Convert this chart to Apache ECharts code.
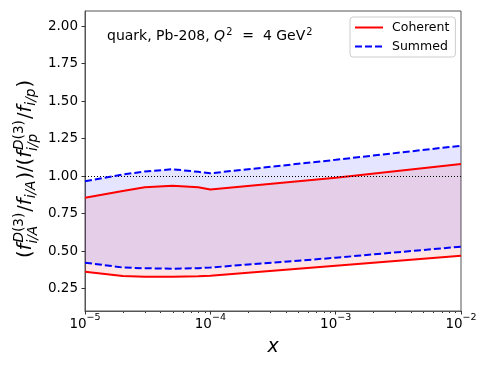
<!DOCTYPE html>
<html>
<head>
<meta charset="utf-8">
<script src="https://cdn.jsdelivr.net/npm/echarts@6/dist/echarts.min.js"></script>
<style>
  html, body { margin: 0; padding: 0; background: #fff; }
  #chart { width: 490px; height: 368px; }
</style>
</head>
<body>
<div id="chart"></div>
<script>
// data
var xs = [1e-5, 2e-5, 3e-5, 5e-5, 8e-5, 1e-4, 1e-3, 1e-2];
var coherentHigh = [0.855, 0.900, 0.925, 0.935, 0.925, 0.910, 0.988, 1.080];
var coherentLow = [0.362, 0.333, 0.329, 0.328, 0.332, 0.335, 0.402, 0.468];
var summedHigh = [0.965, 1.010, 1.030, 1.045, 1.028, 1.018, 1.108, 1.202];
var summedLow = [0.422, 0.390, 0.385, 0.382, 0.385, 0.390, 0.455, 0.529];
var yTicks = [0.25, 0.5, 0.75, 1.0, 1.25, 1.5, 1.75, 2.0];
var xTicks = [1e-5, 1e-4, 1e-3, 1e-2];

var FONT = '"DejaVu Sans"';

function pairs(ys) {
    return xs.map(function (x, i) { return [x, ys[i]]; });
}

var measureCtx = document.createElement('canvas').getContext('2d');
function fontStr(size, it) {
    return (it ? 'italic ' : '') + size + 'px ' + FONT;
}
function textW(s, size, it) {
    measureCtx.font = fontStr(size, it);
    return measureCtx.measureText(s).width;
}

// lays out a small mathtext-like string, baseline at local y = 0
function mathText(tokens, size) {
    var kids = [];
    var x = 0;
    var sc = size * 0.7;
    function put(s, sz, it, px, base) {
        kids.push({
            type: 'text', x: px, y: base - 0.3 * sz,
            style: {
                text: s, font: fontStr(sz, it), fill: '#000',
                align: 'left', verticalAlign: 'middle',
                textAlign: 'left', textVerticalAlign: 'middle'
            }
        });
        return textW(s, sz, it);
    }
    function putParts(parts, px, base) {
        var w = 0;
        parts.forEach(function (p) { w += put(p[0], sc, p[1], px + w, base); });
        return w;
    }
    tokens.forEach(function (t) {
        if (t.sup || t.sub) {
            var w1 = 0, w2 = 0;
            var stacked = t.sup && t.sub;
            if (t.sup) w1 = putParts(t.sup, x + 1, -0.42 * size);
            if (t.sub) w2 = putParts(t.sub, x, stacked ? 0.3 * size : 0.2 * size);
            x += Math.max(w1 + 1, w2) + 1;
        } else {
            x += put(t[0], size, t[1], x, 0);
        }
    });
    return { kids: kids, width: x };
}

var yLabel = mathText([
    ['(', false], ['f', true], { sup: [['D', true], ['(3)', false]], sub: [['i/A', true]] },
    ['/', false], ['f', true], { sub: [['i/A', true]] }, [')/(', false],
    ['f', true], { sup: [['D', true], ['(3)', false]], sub: [['i/p', true]] },
    ['/', false], ['f', true], { sub: [['i/p', true]] }, [')', false]
], 19.5);

var note = mathText([
    ['quark, Pb-208, ', false], ['Q', true], { sup: [['2', false]] },
    ['  =  4 GeV', false], { sup: [['2', false]] }
], 14);

// filled band between two curves, drawn through the axis scale
function band(lo, hi, fill, z) {
    return {
        type: 'custom', silent: true, z: z, animation: false,
        data: xs.map(function (x, i) { return [x, lo[i], hi[i]]; }),
        encode: { x: 0, y: [1, 2] },
        renderItem: function (params, api) {
            if (params.dataIndex !== 0) return;
            var pts = [];
            xs.forEach(function (x, i) { pts.push(api.coord([x, hi[i]])); });
            for (var i = xs.length - 1; i >= 0; i--) pts.push(api.coord([xs[i], lo[i]]));
            return { type: 'polygon', shape: { points: pts }, style: { fill: fill } };
        }
    };
}

var chart = echarts.init(document.getElementById('chart'));

var lineBase = { type: 'line', symbol: 'none', silent: true, animation: false };
var red = { color: '#ff0000', width: 2 };
var blue = { color: '#0000ff', width: 2, type: [7, 3] };

option = {
    animation: false,
    textStyle: { fontFamily: FONT },
    grid: { left: 85, right: 29, top: 11, bottom: 57, show: true, borderColor: '#555', borderWidth: 1 },
    legend: {
        data: ['Coherent', 'Summed'],
        orient: 'vertical',
        left: 350, top: 17,
        itemWidth: 28, itemHeight: 14, itemGap: 6,
        padding: [4, 6, 4, 4],
        borderColor: '#ccc', borderWidth: 1, borderRadius: 3,
        backgroundColor: 'rgba(255,255,255,0.8)',
        itemStyle: { opacity: 0 },
        textStyle: { fontSize: 12.5, color: '#000', fontFamily: FONT, padding: [0, 0, 0, 4] }
    },
    xAxis: {
        type: 'log', logBase: 10, min: 1e-5, max: 1e-2,
        name: 'x', nameLocation: 'middle', nameGap: 27,
        nameTextStyle: { fontSize: 19, fontStyle: 'italic', color: '#000', fontFamily: FONT },
        axisLine: { lineStyle: { color: '#555', width: 1 } },
        axisTick: { show: true, length: 3.5, inside: false, customValues: xTicks, lineStyle: { color: '#333' } },
        axisLabel: {
            customValues: xTicks, margin: 2,
            formatter: function (v) {
                return '{a|10}{b|\u2212' + Math.round(-Math.log10(v)) + '}';
            },
            rich: {
                a: { fontSize: 13.5, fontFamily: FONT, color: '#000', lineHeight: 18, verticalAlign: 'bottom' },
                b: { fontSize: 9.5, fontFamily: FONT, color: '#000', lineHeight: 10, verticalAlign: 'top' }
            }
        },
        splitLine: { show: false }
    },
    yAxis: {
        type: 'value', min: 0.1, max: 2.1,
        axisLine: { show: true, lineStyle: { color: '#555', width: 1 } },
        axisTick: { show: true, length: 3.5, customValues: yTicks, lineStyle: { color: '#333' } },
        axisLabel: {
            customValues: yTicks, margin: 7, fontSize: 13.5, color: '#000', fontFamily: FONT,
            formatter: function (v) { return v.toFixed(2); }
        },
        splitLine: { show: false }
    },
    series: [
        band(coherentLow, coherentHigh, 'rgba(255,0,0,0.1)', 1),
        band(summedLow, summedHigh, 'rgba(0,0,255,0.1)', 2),
        Object.assign({}, lineBase, {
            name: 'Coherent', data: pairs(coherentHigh), color: '#ff0000', lineStyle: red, z: 4,
            markLine: {
                silent: true, symbol: 'none', label: { show: false }, animation: false,
                lineStyle: { color: '#000', type: [1, 2], width: 1 },
                data: [{ yAxis: 1 }]
            }
        }),
        Object.assign({}, lineBase, { name: 'Coherent', data: pairs(coherentLow), color: '#ff0000', lineStyle: red, z: 4 }),
        Object.assign({}, lineBase, { name: 'Summed', data: pairs(summedHigh), color: '#0000ff', lineStyle: blue, z: 5 }),
        Object.assign({}, lineBase, { name: 'Summed', data: pairs(summedLow), color: '#0000ff', lineStyle: blue, z: 5 })
    ]
};

chart.setOption(option);

// minor ticks on the log axis, placed through the axis scale
var graphics = [];
var bottomY = chart.convertToPixel({ gridIndex: 0 }, [1e-5, 0.1])[1];
for (var d = -5; d < -2; d++) {
    for (var k = 2; k <= 9; k++) {
        var px = chart.convertToPixel({ gridIndex: 0 }, [k * Math.pow(10, d), 0.1])[0];
        graphics.push({
            type: 'line', silent: true,
            shape: { x1: Math.round(px) + 0.5, y1: bottomY, x2: Math.round(px) + 0.5, y2: bottomY + 2 },
            style: { stroke: '#333', lineWidth: 1 }
        });
    }
}

graphics.push({
    type: 'group', x: 32, y: 169, rotation: Math.PI / 2, silent: true,
    children: yLabel.kids.map(function (c) { c.x -= yLabel.width / 2; return c; })
});
graphics.push({
    type: 'group', x: 107, y: 41, silent: true,
    children: note.kids
});

chart.setOption({ graphic: graphics });
</script>
</body>
</html>
